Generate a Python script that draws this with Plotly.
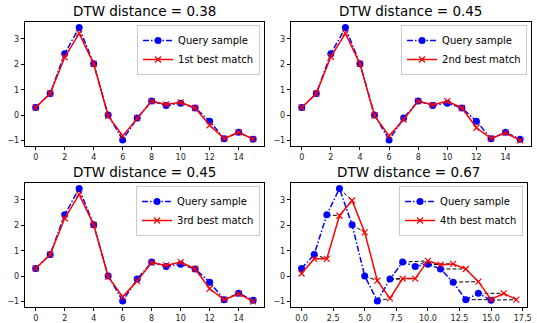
import plotly.graph_objects as go

query = [0.30, 0.85, 2.42, 3.45, 2.02, 0.00, -0.98, -0.12, 0.55, 0.38, 0.47, 0.28, -0.24, -0.93, -0.68, -0.95]
match1 = [0.30, 0.85, 2.28, 3.22, 2.02, -0.03, -0.82, -0.12, 0.55, 0.42, 0.50, 0.28, -0.40, -0.93, -0.68, -0.95]
match2 = [0.30, 0.85, 2.30, 3.22, 2.02, -0.02, -0.82, -0.18, 0.55, 0.40, 0.55, 0.28, -0.50, -0.92, -0.70, -1.00]
match3 = [0.30, 0.85, 2.28, 3.22, 2.02, -0.02, -0.82, -0.20, 0.53, 0.42, 0.55, 0.28, -0.50, -0.93, -0.70, -1.00]
match4 = [0.10, 0.68, 0.68, 2.38, 2.98, 1.72, -0.18, -0.88, -0.10, -0.10, 0.60, 0.45, 0.48, 0.28, -0.22, -0.93, -0.68, -0.93]
matches = [match1, match2, match3, match4]
labels = ["1st best match", "2nd best match", "3rd best match", "4th best match"]
distances = ["0.38", "0.45", "0.45", "0.67"]
path4 = [(0, 0), (1, 1), (1, 2), (2, 3), (3, 4), (4, 5), (5, 6), (6, 7), (7, 8), (7, 9),
         (8, 10), (9, 10), (10, 10), (10, 11), (10, 12), (11, 13), (12, 14), (13, 15), (14, 16), (15, 17)]
paths = [[(i, i) for i in range(16)]] * 3 + [path4]

W, H = 537, 323
xdoms = [(25 / W, 266 / W), (293 / W, 535 / W), (25 / W, 266 / W), (293 / W, 531 / W)]
ydoms = [(1 - 146 / H, 1 - 22 / H), (1 - 307 / H, 1 - 183 / H)]

fig = go.Figure()
font = "DejaVu Sans"
annotations = []
for k in range(4):
    r, c = divmod(k, 2)
    xd = xdoms[k]
    ax = "" if k == 0 else str(k + 1)
    xa, ya = "x" + ax, "y" + ax
    leg = "legend" if k == 0 else "legend" + str(k + 1)
    m = matches[k]
    # warping path
    px, py = [], []
    for i, j in paths[k]:
        px += [i, j, None]
        py += [query[i], m[j], None]
    fig.add_trace(go.Scatter(x=px, y=py, mode="lines", xaxis=xa, yaxis=ya,
                             line=dict(color="black", width=1, dash="4px,2px"),
                             showlegend=False, hoverinfo="skip"))
    fig.add_trace(go.Scatter(x=list(range(len(query))), y=query, mode="lines+markers",
                             name="Query sample", xaxis=xa, yaxis=ya, legend=leg,
                             line=dict(color="blue", width=1.5, dash="6px,2px,1.5px,2px"),
                             marker=dict(color="blue", size=7, symbol="circle")))
    fig.add_trace(go.Scatter(x=list(range(len(m))), y=m, mode="lines+markers",
                             name=labels[k], xaxis=xa, yaxis=ya, legend=leg,
                             line=dict(color="red", width=1.5),
                             marker=dict(color="red", size=6, symbol="x-thin",
                                         line=dict(color="red", width=1.2))))
    n = len(m) - 1
    mx = 0.05 * n
    if k < 3:
        tv = list(range(0, 16, 2))
        tt = [str(v) for v in tv]
    else:
        tv = [0, 2.5, 5, 7.5, 10, 12.5, 15, 17.5]
        tt = ["%.1f" % v for v in tv]
    axis_common = dict(showgrid=False, zeroline=False, showline=True, mirror=True,
                       linecolor="black", linewidth=1, ticks="outside", ticklen=3,
                       tickwidth=1, tickcolor="black", ticklabeloverflow="allow",
                       tickfont=dict(family=font, size=8, color="#222"))
    fig.update_layout(**{
        ("xaxis" + ax): dict(domain=xd, range=[-mx, n + mx], tickvals=tv, ticktext=tt,
                             anchor=ya, **axis_common),
        ("yaxis" + ax): dict(domain=ydoms[r], range=[-1.22, 3.67], tickvals=[-1, 0, 1, 2, 3],
                             ticktext=["\u22121", "0", "1", "2", "3"], anchor=xa, **axis_common),
        leg: dict(x=xd[1] - 4 / W, y=ydoms[r][1] - 3 / H, xanchor="right", yanchor="top",
                  bgcolor="rgba(255,255,255,0.85)", bordercolor="#cccccc", borderwidth=1,
                  font=dict(family=font, size=10, color="black"),
                  tracegroupgap=0, itemwidth=30),
    })
    annotations.append(dict(text="DTW distance = " + distances[k], xref="paper", yref="paper",
                            x=(xd[0] + xd[1]) / 2, y=ydoms[r][1] + 1 / H,
                            xanchor="center", yanchor="bottom", showarrow=False,
                            font=dict(family=font, size=13.5, color="black")))

fig.update_layout(width=W, height=H, margin=dict(l=0, r=0, t=0, b=0),
                  plot_bgcolor="white", paper_bgcolor="white", annotations=annotations)
fig.write_html("out.html", config={"displayModeBar": False},
               post_script="document.body.style.margin='0';document.body.style.overflow='hidden';")
